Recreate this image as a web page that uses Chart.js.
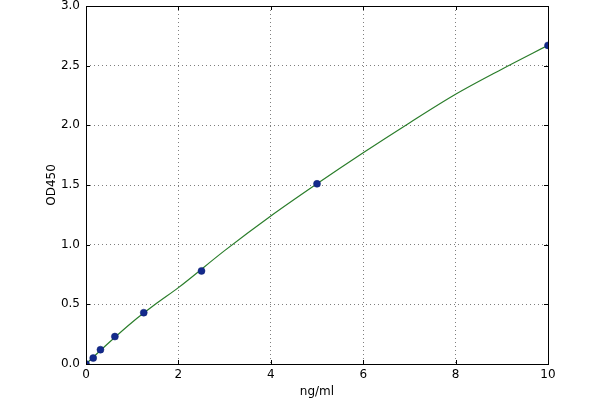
<!DOCTYPE html>
<html>
<head>
<meta charset="utf-8">
<script src="https://cdn.jsdelivr.net/npm/chart.js@4.4.1/dist/chart.umd.min.js"></script>
<style>
  html, body { margin: 0; padding: 0; background: #fff; }
  #wrap { width: 600px; height: 400px; }
</style>
</head>
<body>
<div id="wrap"><canvas id="curveChart"></canvas></div>
<script>
// standards (ng/ml) and measured OD450
const concentrations = [0, 0.156, 0.3125, 0.625, 1.25, 2.5, 5, 10];
const odValues = [0.0, 0.05, 0.12, 0.23, 0.43, 0.78, 1.51, 2.67];

// fitted curve
const curveX = [0, 0.5, 1, 1.5, 2, 3, 4, 5, 6, 7, 8, 9, 10];
const curveY = [0, 0.18, 0.35, 0.50, 0.64, 0.95, 1.24, 1.51, 1.77, 2.02, 2.26, 2.47, 2.67];

const xTicks = [0, 2, 4, 6, 8, 10];
const yTicks = [0.0, 0.5, 1.0, 1.5, 2.0, 2.5, 3.0];

const toXY = (xs, ys) => xs.map((x, i) => ({ x: x, y: ys[i] }));

// matplotlib-ish frame with inward ticks
const framePlugin = {
    id: 'frame',
    afterDatasetsDraw(chart) {
        const { ctx, chartArea: a, scales } = chart;
        ctx.save();
        ctx.strokeStyle = '#000';
        ctx.lineWidth = 1;
        ctx.strokeRect(a.left + 0.5, a.top + 0.5, a.right - a.left, a.bottom - a.top);
        ctx.beginPath();
        xTicks.forEach(v => {
            const px = Math.round(scales.x.getPixelForValue(v)) + 0.5;
            ctx.moveTo(px, a.bottom); ctx.lineTo(px, a.bottom - 4);
            ctx.moveTo(px, a.top); ctx.lineTo(px, a.top + 4);
        });
        yTicks.forEach(v => {
            const py = Math.round(scales.y.getPixelForValue(v)) + 0.5;
            ctx.moveTo(a.left, py); ctx.lineTo(a.left + 4, py);
            ctx.moveTo(a.right, py); ctx.lineTo(a.right - 4, py);
        });
        ctx.stroke();
        ctx.restore();
    }
};

const gridStyle = {
    color: 'rgba(0,0,0,0.5)',
    lineWidth: 1,
    drawTicks: false
};

new Chart(document.getElementById('curveChart'), {
    type: 'scatter',
    data: {
        datasets: [
            {
                type: 'line',
                label: 'fit',
                data: toXY(curveX, curveY),
                borderColor: '#2a7d2a',
                borderWidth: 1.2,
                pointRadius: 0,
                fill: false,
                cubicInterpolationMode: 'monotone',
                order: 2
            },
            {
                label: 'standards',
                data: toXY(concentrations, odValues),
                backgroundColor: '#132a8c',
                borderColor: '#0c1f70',
                borderWidth: 0.5,
                pointRadius: 3.5,
                order: 1
            }
        ]
    },
    options: {
        responsive: true,
        maintainAspectRatio: false,
        animation: false,
        layout: { padding: { left: 0, right: 52, top: 6, bottom: 0 } },
        plugins: {
            legend: { display: false },
            tooltip: { enabled: false }
        },
        scales: {
            x: {
                type: 'linear',
                min: 0,
                max: 10,
                afterBuildTicks: s => { s.ticks = xTicks.map(v => ({ value: v })); },
                afterFit: s => { s.height = 36; s.paddingLeft = 0; s.paddingRight = 0; },
                grid: gridStyle,
                border: { display: false, dash: [1, 3] },
                ticks: {
                    color: '#000',
                    font: { family: 'DejaVu Sans', size: 12 },
                    padding: 4,
                    maxRotation: 0,
                    callback: v => String(v)
                },
                title: {
                    display: true,
                    text: 'ng/ml',
                    color: '#000',
                    font: { family: 'DejaVu Sans', size: 12 },
                    padding: { top: 0, bottom: 1 }
                }
            },
            y: {
                type: 'linear',
                min: 0,
                max: 3,
                afterBuildTicks: s => { s.ticks = yTicks.map(v => ({ value: v })); },
                afterFit: s => { s.width = 86; s.paddingTop = 0; s.paddingBottom = 0; },
                grid: gridStyle,
                border: { display: false, dash: [1, 3] },
                ticks: {
                    color: '#000',
                    font: { family: 'DejaVu Sans', size: 12 },
                    padding: 6,
                    callback: v => v.toFixed(1)
                },
                title: {
                    display: true,
                    text: 'OD450',
                    color: '#000',
                    font: { family: 'DejaVu Sans', size: 12 },
                    padding: { top: 45, bottom: 0 }
                }
            }
        }
    },
    plugins: [framePlugin]
});
</script>
</body>
</html>
